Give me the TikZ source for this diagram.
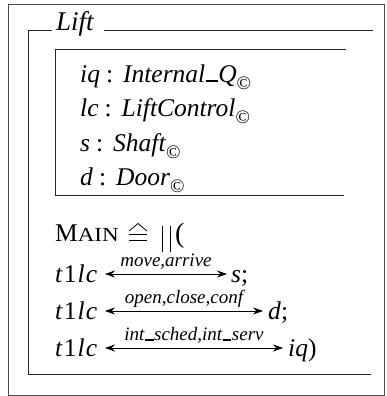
\documentclass[tikz,border=0pt]{standalone}
\usepackage{fontspec}
\setmainfont{Liberation Serif}
\usepackage{graphicx}
\usetikzlibrary{arrows.meta}
\newcommand\cop{\raisebox{-7pt}{\fontsize{19}{19}\selectfont\upshape ©}}
\newcommand\colsep{\hspace{6pt}\upshape:\hspace{10pt}}
\newcommand\usc{\kern0.03em\rule{0.45em}{0.06em}\kern0.03em}
\newcommand\tlc{\textit{t}\kern1.2pt1\kern1pt\textit{l}\kern1pt\textit{c}}
\begin{document}
\begin{tikzpicture}[x=1pt,y=-1pt,
  frame/.style={line width=0.9pt, draw=black!85},
  outerframe/.style={line width=0.8pt, draw=black!70},
  txt/.style={anchor=base west, inner sep=0pt, font=\fontsize{25.5}{25.5}\selectfont},
  lbl/.style={anchor=base, inner sep=0pt, font=\fontsize{19}{19}\selectfont\itshape},
  dbl/.style={line width=0.8pt, {Stealth[length=10pt,width=7pt]}-{Stealth[length=10pt,width=7pt]}},
  sym/.style={line width=1pt, draw=black}]
\useasboundingbox (0,0) rectangle (386,396);
\draw[outerframe] (8,4) rectangle (384.5,395);
% schema frame
\node[txt, font=\fontsize{27}{27}\selectfont\itshape] (lift) at (56,31) {Lift};
\draw[frame] (52,30) -- (28,30) -- (28,374) -- (371,374);
\draw[frame] (104,30) -- (373,30);
% declarations box
\draw[frame] (346,49) -- (55,49) -- (55,195) -- (344,195);
\node[txt] (d1) at (80,82) {\textit{iq}\colsep\textit{Internal\usc Q}\cop};
\node[txt] (d2) at (80,116) {\textit{lc}\colsep\textit{LiftControl}\cop};
\node[txt] (d3) at (80,151) {\textit{s}\colsep\textit{Shaft}\cop};
\node[txt] (d4) at (80,185) {\textit{d}\colsep\textit{Door}\cop};
% main line
\node[txt] (main) at (55,241) {M\scalebox{1.15}[1]{\fontsize{20}{20}\selectfont AIN}};
\draw[sym] (129,234.5) -- (147,234.5) (129,240) -- (147,240);
\draw[line width=0.8pt] (129,231) -- (138,223.5) -- (147,231);
\draw[sym] (162.5,226) -- (162.5,252) (170,226) -- (170,252);
\node[txt, font=\fontsize{28}{28}\selectfont] (paren) at (175,242) {(};
% row 1
\node[txt] (p1) at (55,282) {\tlc};
\node[txt] (q1) at (231,282) {\textit{s};};
\coordinate (a1) at (105,274);
\coordinate (b1) at (227,274);
\draw[dbl] (a1) -- (b1) node[lbl, midway, yshift=7.5pt] {move,arrive};
% row 2
\node[txt] (p2) at (55,319) {\tlc};
\node[txt] (q2) at (268,319) {\textit{d};};
\coordinate (a2) at (105,311);
\coordinate (b2) at (263,311);
\draw[dbl] (a2) -- (b2) node[lbl, midway, yshift=7.5pt] {open,close,conf};
% row 3
\node[txt] (p3) at (55,356) {\tlc};
\node[txt] (q3) at (288,356) {\textit{iq})};
\coordinate (a3) at (105,348);
\coordinate (b3) at (283,348);
\draw[dbl] (a3) -- (b3) node[lbl, midway, yshift=7.5pt] {int\usc sched,int\usc serv};
\end{tikzpicture}
\end{document}
